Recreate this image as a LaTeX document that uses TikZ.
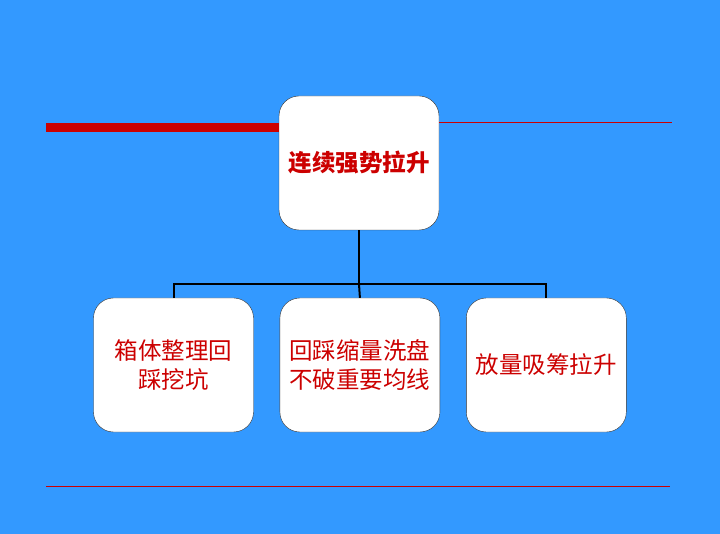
\documentclass[tikz,border=0pt]{standalone}
\usepackage{fontspec}
\usepackage{tikz}
\usetikzlibrary{positioning}
\newfontfamily\cjk{Noto Sans CJK SC}
\definecolor{hgblau}{HTML}{3399FF}
\definecolor{textrot}{HTML}{CC0000}

\begin{document}
\begin{tikzpicture}[x=1pt, y=-1pt,
        kasten/.style={draw=black!80, fill=white, rounded corners=20pt,
            minimum width=160pt, minimum height=134pt, inner sep=0pt,
            align=center, text=textrot, font=\cjk\fontsize{23.5}{29}\selectfont},
        ast/.style={draw=black, line width=2pt}
        ]
            % Hintergrund
            \fill [hgblau] (0,0) rectangle (720,534);
            \useasboundingbox (0,0) rectangle (720,534);

            % Kaesten
            \node (top) [kasten, font=\cjk\bfseries\fontsize{23.5}{29}\selectfont] at (359,163) {连续强势拉升};
            \node (a) [kasten] at (173.5,365) {箱体整理回\\踩挖坑};
            \node (b) [kasten, right=26pt of a] {回踩缩量洗盘\\不破重要均线};
            \node (c) [kasten, right=26pt of b] {放量吸筹拉升};

            % Linien
            \draw [textrot, line width=9pt] (46,127.5) -- (top.west |- 0,127.5);
            \draw [textrot, line width=1pt] (top.east |- 0,123) -- (672,123);
            \draw [textrot, line width=1pt] (46,486) -- (670,486);

            % Verbindungen
            \coordinate (gabel) at (top.south |- 0,284);
            \draw [ast] (top.south) -- (gabel);
            \draw [ast] (a.north) |- (gabel) -| (c.north);
            \draw [ast] (gabel) -- (b.north);
        \end{tikzpicture}
\end{document}
